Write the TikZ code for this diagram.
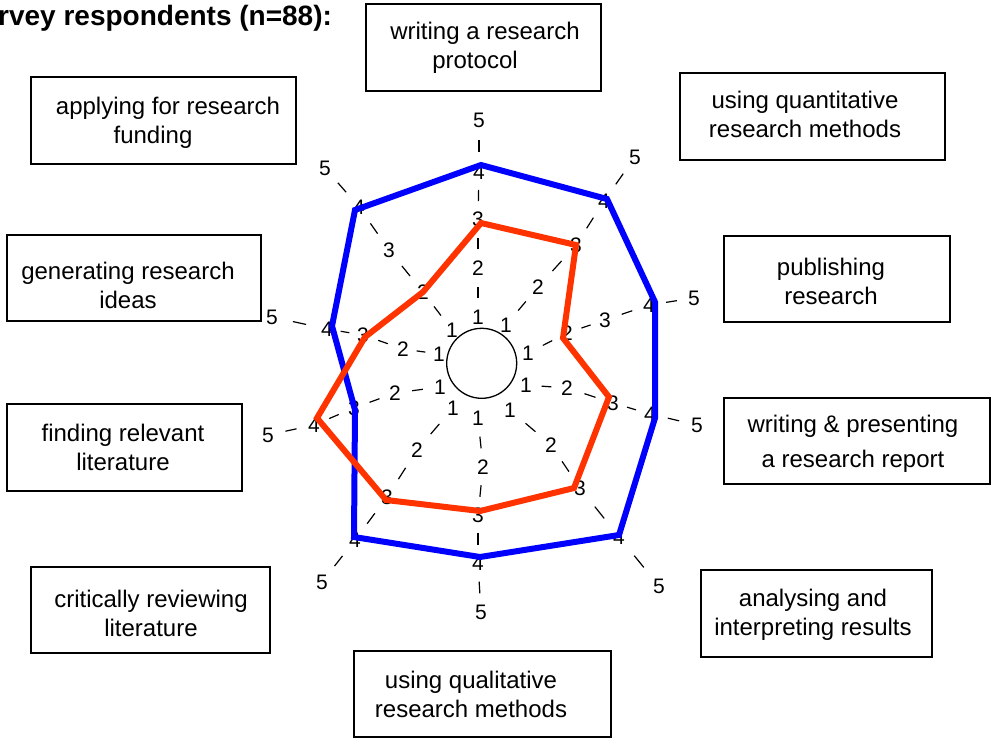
\documentclass[tikz,border=0pt]{standalone}
\usepackage{fontspec}
\setmainfont{Liberation Sans}
\usetikzlibrary{calc}
\definecolor{serblue}{RGB}{0,0,255}
\definecolor{serred}{RGB}{255,51,0}
\tikzset{
  boxshape/.style={draw, line width=1.5pt, rectangle, inner sep=0pt},
  boxtext/.style={font=\fontsize{24}{29}\selectfont, align=center, anchor=north, inner sep=0pt},
  num/.style={font=\fontsize{21}{25}\selectfont, inner sep=0pt},
  axisdash/.style={line width=1.2pt},
  serie/.style={line width=6pt, line join=miter},
}
\begin{document}
\begin{tikzpicture}[x=1pt,y=-1pt]
\useasboundingbox (0,0) rectangle (994,740);

% title (clipped at left edge)
\node[font=\bfseries\fontsize{28}{34}\selectfont, anchor=base west, inner sep=0pt] (title) at (-2,25) {rvey respondents (n=88):};

% category boxes
\node[boxshape, minimum width=235pt, minimum height=87pt] (box1) at (483.5,47.5) {};
\node[boxshape, minimum width=265pt, minimum height=87pt] (box2) at (812.5,116.5) {};
\node[boxshape, minimum width=226pt, minimum height=86pt] (box3) at (837,279) {};
\node[boxshape, minimum width=266pt, minimum height=86pt] (box4) at (857,441) {};
\node[boxshape, minimum width=231pt, minimum height=87pt] (box5) at (816.5,613.5) {};
\node[boxshape, minimum width=257pt, minimum height=86pt] (box6) at (482.5,694) {};
\node[boxshape, minimum width=239pt, minimum height=86pt] (box7) at (150.5,610) {};
\node[boxshape, minimum width=235pt, minimum height=87pt] (box8) at (124.5,447.5) {};
\node[boxshape, minimum width=254pt, minimum height=86pt] (box9) at (134,278) {};
\node[boxshape, minimum width=265pt, minimum height=87pt] (box10) at (163.5,120.5) {};

\node[boxtext] (txt1) at (485,21.7) {writing a research\\protocol\hspace*{20pt}};
\node[boxtext] (txt2) at (805,90.7) {using quantitative\\research methods};
\node[boxtext] (txt3) at (831,257.7) {publishing\\research};
\node[boxtext, font=\fontsize{24}{35}\selectfont] (txt4) at (853,414.7) {writing \& presenting\\a research report};
\node[boxtext] (txt5) at (813,588.7) {analysing and\\interpreting results};
\node[boxtext] (txt6) at (471,670.7) {using qualitative\\research methods};
\node[boxtext] (txt7) at (151,589.7) {critically reviewing\\literature};
\node[boxtext] (txt8) at (123,423.7) {finding relevant\\literature};
\node[boxtext] (txt9) at (128,261.7) {generating research\\ideas};
\node[boxtext] (txt10) at (168,96.7) {applying for research\\funding\hspace*{30pt}};

% centre circle
\node[circle, draw, line width=1.3pt, minimum size=70pt, inner sep=0pt] (hub) at (481.7,363.3) {};

% scale labels on the ten axes
\foreach \k/\xa/\ya/\xb/\yb/\xc/\yc/\xd/\yd/\xe/\ye in {
  1/478/317/478/268/478/219/479/172/479/120,
  2/506/325/538/287/576/245/604/201/635/157,
  3/528/353/567/333/605/320/649/305/694/298,
  4/526/385/567/388/613/403/650/414/697/425,
  5/510/410/551/445/580/488/619/537/659/586,
  6/478/418/483/467/478/515/478/563/481/612,
  7/453/408/417/450/387/497/355/540/322/582,
  8/440/387/395/393/354/408/314/425/268/435,
  9/439/354/403/349/363/335/327/329/272/317,
  10/452/330/423/292/389/250/359/207/325/168}{
  \node[num] (a\k-1) at (\xa,\ya) {1};
  \node[num] (a\k-2) at (\xb,\yb) {2};
  \node[num] (a\k-3) at (\xc,\yc) {3};
  \node[num] (a\k-4) at (\xd,\yd) {4};
  \node[num] (a\k-5) at (\xe,\ye) {5};
}

% dashed axes between the labels
\foreach \k in {1,...,10}{
  \foreach \i/\j in {1/2,2/3,3/4,4/5}{
    \draw[axisdash] ($(a\k-\i)!0.38!(a\k-\j)$) -- ($(a\k-\i)!0.62!(a\k-\j)$);
  }
}

% series vertices
\coordinate (b1) at (481,165);
\coordinate (b2) at (607,199);
\coordinate (b3) at (655,302);
\coordinate (b4) at (655,418);
\coordinate (b5) at (619,535);
\coordinate (b6) at (480,557);
\coordinate (b7) at (354,537);
\coordinate (b8) at (355,410);
\coordinate (b9) at (332,326);
\coordinate (b10) at (355,210);

\coordinate (r1) at (481,223);
\coordinate (r2) at (576,245);
\coordinate (r3) at (563,338);
\coordinate (r4) at (609,397);
\coordinate (r5) at (574,488);
\coordinate (r6) at (480,511);
\coordinate (r7) at (386,500);
\coordinate (r8) at (317,418);
\coordinate (r9) at (365,337);
\coordinate (r10) at (423,292);

\draw[serie, serblue] (b1) -- (b2) -- (b3) -- (b4) -- (b5) -- (b6) -- (b7) -- (b8) -- (b9) -- (b10) -- cycle;
\draw[serie, serred] (r1) -- (r2) -- (r3) -- (r4) -- (r5) -- (r6) -- (r7) -- (r8) -- (r9) -- (r10) -- cycle;
\end{tikzpicture}
\end{document}
